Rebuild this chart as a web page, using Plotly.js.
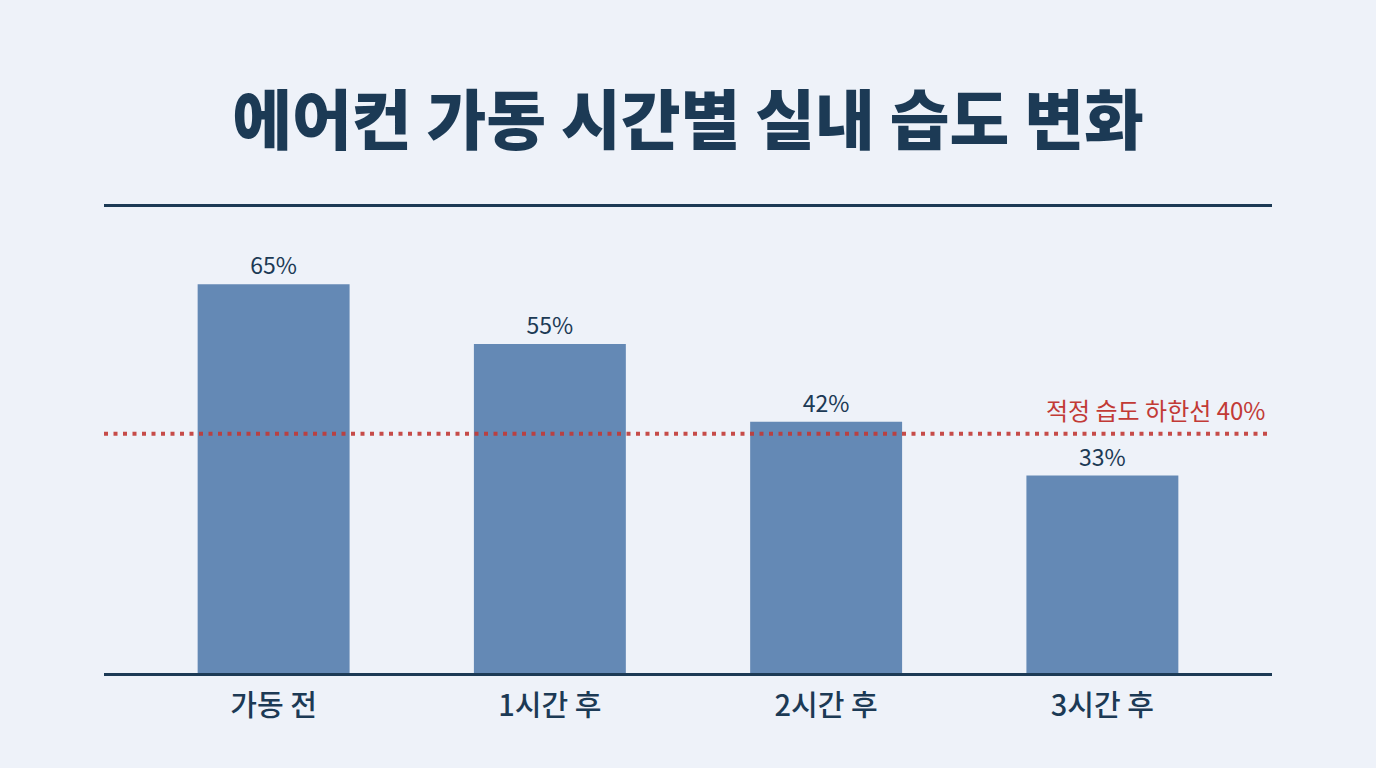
<!DOCTYPE html>
<html>
<head>
<meta charset="utf-8">
<script src="https://cdn.plot.ly/plotly-3.0.1.min.js"></script>
<style>
  html, body { margin: 0; padding: 0; background: #eef2f9; }
  #chart { width: 1376px; height: 768px; }
</style>
</head>
<body>
<div id="chart"></div>
<script>
// 시간대별 실내 습도 (%)
const categories = ['가동 전', '1시간 후', '2시간 후', '3시간 후'];
const humidity = [65, 55, 42, 33];
const thresholdValue = 40;
const thresholdLabel = '적정 습도 하한선 40%';
const chartTitle = '에어컨 가동 시간별 실내 습도 변화';

const navy = '#1c3a55';
const barColor = '#6489b5';
const red = '#c23a36';
const fontKr = '"Noto Sans CJK KR", "Noto Sans", sans-serif';

let trace = {
  type: 'bar',
  x: categories,
  y: humidity,
  width: 0.55,
  marker: { color: barColor },
  text: humidity.map(v => v + '%'),
  textposition: 'outside',
  textfont: { family: fontKr, size: 23, color: navy },
  cliponaxis: false,
  hoverinfo: 'skip',
};

let layout = {
  width: 1376,
  height: 768,
  margin: { l: 104, r: 104, t: 207, b: 95 },
  paper_bgcolor: '#eef2f9',
  plot_bgcolor: '#eef2f9',
  showlegend: false,
  title: {
    text: chartTitle,
    font: { family: fontKr, size: 65, color: navy, weight: 900 },
    x: 0.5,
    xanchor: 'center',
    y: 0.842,
    yanchor: 'middle',
    yref: 'container',
  },
  xaxis: {
    type: 'category',
    range: [-0.614, 3.614],
    showline: true,
    mirror: true,
    linecolor: navy,
    linewidth: 3,
    showgrid: false,
    zeroline: false,
    ticks: '',
    ticklabelstandoff: 5,
    tickfont: { family: fontKr, size: 29, color: navy, weight: 500 },
  },
  yaxis: {
    range: [0, 77.9],
    visible: false,
    showgrid: false,
    zeroline: false,
  },
  shapes: [{
    type: 'line',
    xref: 'paper', x0: 0, x1: 1,
    yref: 'y', y0: thresholdValue, y1: thresholdValue,
    line: { color: red, width: 4, dash: '4px,5.5px' },
    opacity: 0.9,
    layer: 'above',
  }],
  annotations: [{
    xref: 'paper', x: 0.9957,
    yref: 'y', y: thresholdValue,
    xanchor: 'right', yanchor: 'bottom',
    yshift: 5,
    showarrow: false,
    text: thresholdLabel,
    font: { family: fontKr, size: 24, color: red },
  }],
};

Plotly.newPlot('chart', [trace], layout, { displayModeBar: false, staticPlot: true });
</script>
</body>
</html>
